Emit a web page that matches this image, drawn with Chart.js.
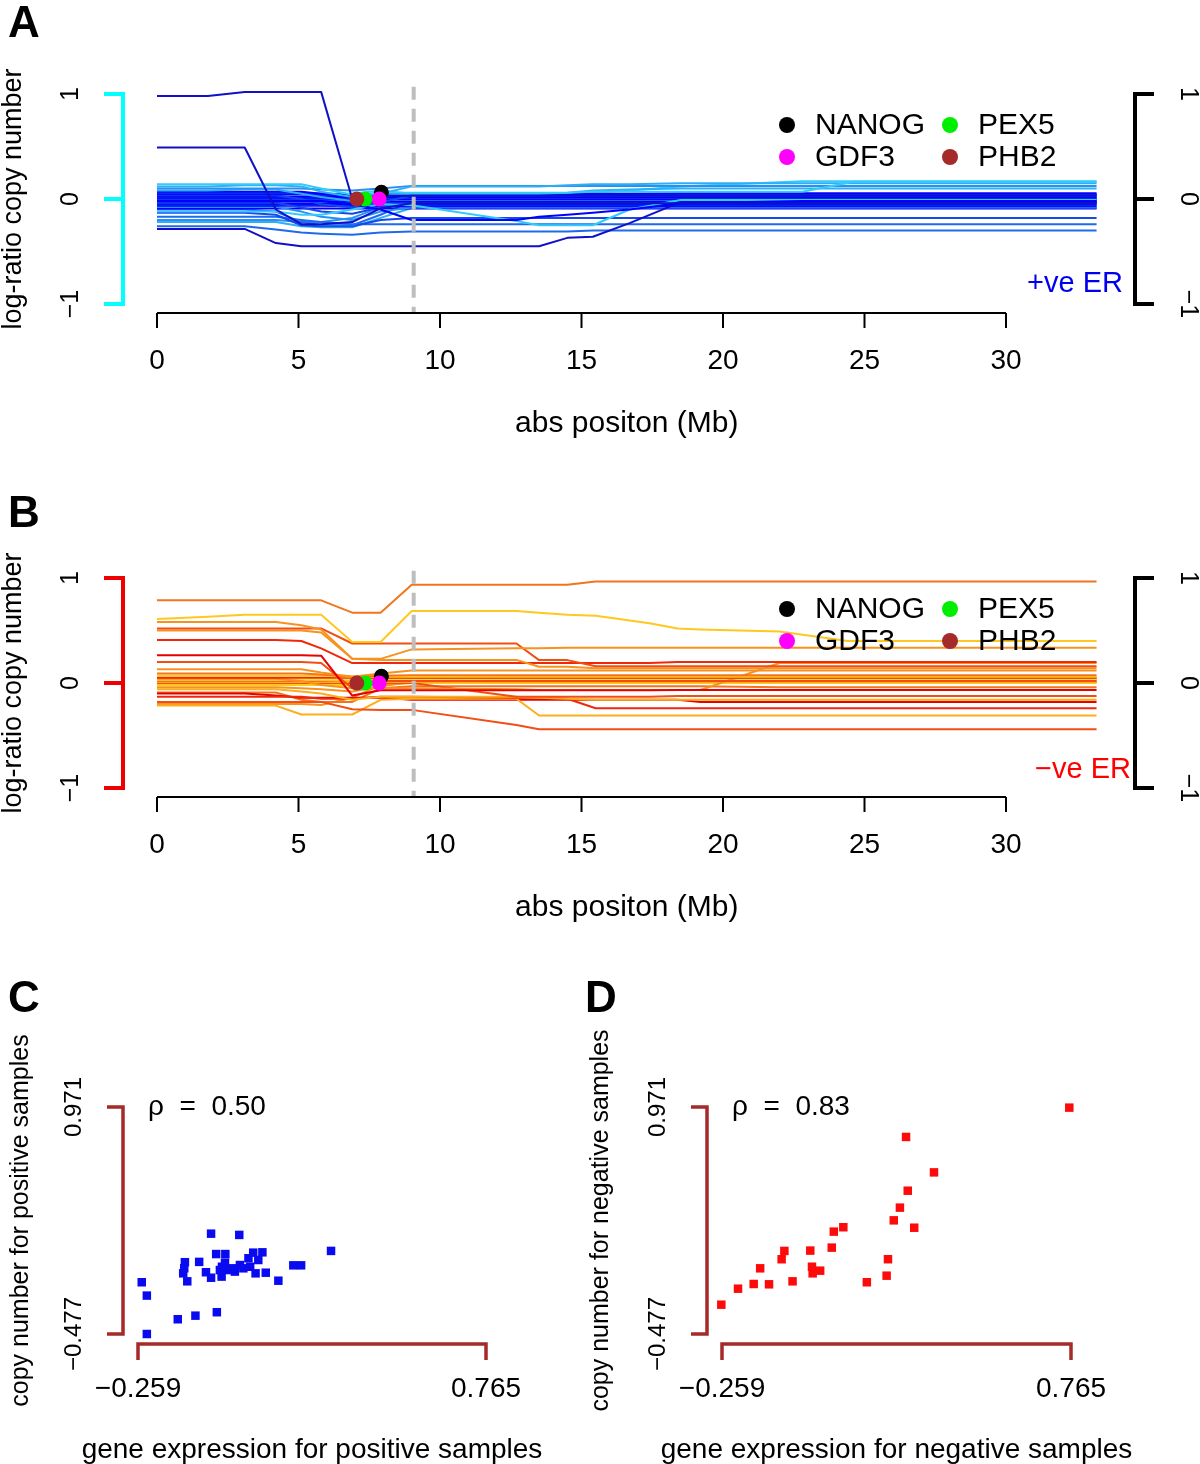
<!DOCTYPE html>
<html><head><meta charset="utf-8">
<script src="https://cdn.jsdelivr.net/npm/chart.js@4.4.1/dist/chart.umd.min.js"></script>
<style>
html,body{margin:0;padding:0;background:#fff;}
#wrap{position:relative;width:1200px;height:1464px;overflow:hidden;background:#fff;}
canvas{position:absolute;display:block;}
</style></head><body>
<div id="wrap">
<canvas id="cA" width="1200" height="484" style="left:0;top:0;width:1200px;height:484px"></canvas>
<canvas id="cB" width="1200" height="480" style="left:0;top:484px;width:1200px;height:480px"></canvas>
<canvas id="cC" width="580" height="500" style="left:0;top:964px;width:580px;height:500px"></canvas>
<canvas id="cD" width="620" height="500" style="left:580px;top:964px;width:620px;height:500px"></canvas>
</div>
<script>
// ---------------- DATA ----------------
const xTicksAB = [0, 5, 10, 15, 20, 25, 30];
const yTicksAB = [-1, 0, 1];
const xTitleAB = 'abs positon (Mb)';
const yTitleAB = 'log-ratio copy number';

const geneNames = ['NANOG', 'GDF3', 'PEX5', 'PHB2'];
const genePos = [7.93, 7.85, 7.35, 7.06];
const geneLogRatio = [0.064, 0.0, 0.0, 0.0];
const boundaryMb = 9.07;
const boundaryRange = [1.07, -1.086];

// Panel A: positions (Mb) and log-ratio values of each +ve ER sample
const posA = [0, 1.8, 3.1, 4.2, 5.1, 5.8, 6.9, 7.9, 9.0, 12.7, 13.5, 14.5, 15.4, 16.7, 18.5, 22.8, 24.6, 33.2];
const seriesA = [
 [0.98,0.98,1.02,1.02,1.02,1.02,0.00,0.03,0.03,0.03,0.03,0.03,0.03,0.03,0.03,0.03,0.03,0.03],
 [0.49,0.49,0.49,-0.10,-0.24,-0.24,-0.22,-0.09,-0.04,-0.04,-0.04,-0.04,-0.04,-0.04,-0.04,-0.04,-0.04,-0.04],
 [-0.02,-0.02,-0.02,-0.02,-0.02,-0.02,-0.05,-0.10,-0.20,-0.20,-0.17,-0.15,-0.13,-0.10,-0.04,-0.02,-0.02,-0.02],
 [-0.285,-0.285,-0.285,-0.42,-0.45,-0.45,-0.45,-0.45,-0.45,-0.45,-0.45,-0.37,-0.36,-0.23,-0.03,-0.03,-0.03,-0.03],
 [-0.12,-0.12,-0.12,-0.12,-0.15,-0.15,-0.10,-0.05,-0.06,-0.21,-0.25,-0.25,-0.25,-0.10,-0.01,-0.01,-0.01,-0.01],
 [0.14,0.14,0.14,0.14,0.14,0.10,0.04,0.06,0.06,0.06,0.06,0.06,0.07,0.07,0.07,0.07,0.165,0.165],
 [0.12,0.12,0.13,0.13,0.12,0.07,0.02,0.05,0.12,0.12,0.12,0.13,0.14,0.14,0.15,0.15,0.15,0.15],
 [0.10,0.10,0.10,0.10,0.10,0.09,0.08,0.10,0.125,0.125,0.125,0.125,0.125,0.125,0.125,0.125,0.125,0.125],
 [0.08,0.08,0.09,0.09,0.05,0.02,-0.02,0.03,0.05,0.05,0.05,0.06,0.08,0.09,0.10,0.10,0.10,0.10],
 [0.07,0.07,0.07,0.07,0.07,0.05,0.03,0.04,0.05,0.05,0.05,0.05,0.05,0.05,0.055,0.055,0.055,0.055],
 [0.055,0.055,0.055,0.055,0.055,0.05,0.04,0.045,0.045,0.045,0.045,0.045,0.045,0.045,0.045,0.045,0.045,0.045],
 [0.045,0.045,0.045,0.045,0.045,0.04,0.035,0.04,0.04,0.04,0.04,0.04,0.04,0.04,0.04,0.04,0.04,0.04],
 [0.035,0.035,0.035,0.035,0.00,-0.05,-0.08,-0.03,0.03,0.03,0.03,0.03,0.03,0.03,0.03,0.03,0.03,0.03],
 [0.025,0.025,0.025,0.025,0.025,0.025,0.02,0.02,0.02,0.02,0.02,0.02,0.02,0.02,0.02,0.02,0.02,0.02],
 [0.015,0.015,0.015,0.015,0.015,0.015,0.01,0.01,0.01,0.01,0.01,0.01,0.01,0.01,0.01,0.01,0.01,0.01],
 [0.005,0.005,0.005,0.005,0.005,0.005,0.0,0.0,0.0,0.0,0.0,0.0,0.0,0.0,0.0,0.0,0.0,0.0],
 [-0.005,-0.005,-0.005,-0.005,-0.005,-0.005,-0.01,-0.01,-0.01,-0.01,-0.01,-0.01,-0.01,-0.01,-0.01,-0.01,-0.01,-0.01],
 [-0.015,-0.015,-0.015,-0.015,-0.015,-0.015,-0.02,-0.02,-0.02,-0.02,-0.02,-0.02,-0.02,-0.02,-0.02,-0.02,-0.02,-0.02],
 [-0.025,-0.025,-0.025,-0.025,-0.025,-0.025,-0.03,-0.03,-0.03,-0.03,-0.03,-0.03,-0.03,-0.03,-0.03,-0.03,-0.03,-0.03],
 [-0.035,-0.035,-0.035,-0.035,-0.08,-0.12,-0.14,-0.08,-0.04,-0.04,-0.04,-0.04,-0.04,-0.04,-0.04,-0.04,-0.04,-0.04],
 [-0.045,-0.045,-0.045,-0.045,-0.045,-0.045,-0.05,-0.05,-0.05,-0.05,-0.05,-0.05,-0.05,-0.05,-0.05,-0.05,-0.05,-0.05],
 [-0.055,-0.055,-0.055,-0.055,-0.055,-0.055,-0.06,-0.06,-0.06,-0.06,-0.06,-0.06,-0.06,-0.06,-0.06,-0.06,-0.06,-0.06],
 [-0.065,-0.065,-0.065,-0.065,-0.065,-0.065,-0.07,-0.07,-0.07,-0.07,-0.07,-0.07,-0.07,-0.07,-0.07,-0.07,-0.07,-0.07],
 [-0.075,-0.075,-0.075,-0.075,-0.12,-0.17,-0.20,-0.12,-0.08,-0.08,-0.08,-0.08,-0.08,-0.08,-0.08,-0.08,-0.08,-0.08],
 [-0.09,-0.09,-0.09,-0.09,-0.09,-0.09,-0.09,-0.09,-0.09,-0.09,-0.09,-0.09,-0.09,-0.09,-0.09,-0.09,-0.09,-0.09],
 [-0.10,-0.10,-0.10,-0.12,-0.22,-0.25,-0.25,-0.15,-0.02,-0.02,-0.02,-0.02,-0.02,-0.02,-0.02,-0.02,-0.02,-0.02],
 [-0.13,-0.13,-0.13,-0.15,-0.25,-0.26,-0.26,-0.20,-0.18,-0.18,-0.18,-0.18,-0.18,-0.18,-0.18,-0.18,-0.18,-0.18],
 [-0.17,-0.17,-0.17,-0.17,-0.20,-0.22,-0.24,-0.24,-0.24,-0.24,-0.24,-0.24,-0.24,-0.24,-0.24,-0.24,-0.24,-0.24],
 [-0.20,-0.20,-0.20,-0.20,-0.22,-0.22,-0.18,-0.08,0.00,0.00,0.00,0.00,0.00,0.00,0.00,0.00,0.00,0.00],
 [-0.26,-0.26,-0.26,-0.29,-0.32,-0.33,-0.34,-0.32,-0.31,-0.31,-0.31,-0.31,-0.30,-0.30,-0.30,-0.30,-0.30,-0.30],
 [-0.22,-0.22,-0.22,-0.22,-0.26,-0.27,-0.27,-0.18,-0.085,-0.085,-0.085,-0.085,-0.085,-0.085,-0.085,-0.085,-0.085,-0.085],
 [0.05,0.05,0.05,0.05,0.05,0.05,0.05,0.08,0.05,0.05,0.05,0.05,0.06,0.08,0.12,0.17,0.17,0.17]
];

// Panel B: positions (Mb) and log-ratio values of each -ve ER sample
const posB = [0, 1.8, 3.1, 4.2, 5.1, 5.8, 6.9, 7.9, 9.0, 12.7, 13.5, 14.5, 15.5, 17.4, 18.4, 19.2, 22.0, 24.4, 33.2];
const seriesB = [
 [0.787,0.787,0.787,0.787,0.787,0.787,0.67,0.67,0.935,0.935,0.935,0.935,0.967,0.967,0.967,0.967,0.967,0.967,0.967],
 [0.61,0.63,0.65,0.65,0.65,0.65,0.39,0.39,0.685,0.685,0.67,0.65,0.64,0.57,0.52,0.51,0.49,0.40,0.40],
 [0.58,0.58,0.58,0.58,0.55,0.51,0.23,0.23,0.32,0.33,0.33,0.335,0.335,0.335,0.335,0.335,0.335,0.335,0.335],
 [0.52,0.52,0.52,0.52,0.52,0.52,0.376,0.376,0.376,0.376,0.218,0.218,0.16,0.16,0.16,0.16,0.16,0.16,0.16],
 [0.50,0.50,0.50,0.50,0.50,0.48,0.23,0.22,0.22,0.22,0.155,0.155,0.14,0.14,0.14,0.14,0.14,0.14,0.14],
 [0.41,0.41,0.41,0.41,0.40,0.33,0.19,0.19,0.19,0.19,0.19,0.19,0.19,0.19,0.20,0.20,0.20,0.20,0.20],
 [0.265,0.265,0.265,0.265,0.265,0.26,-0.12,-0.07,-0.07,-0.07,-0.07,-0.07,-0.07,-0.07,-0.066,-0.066,-0.066,-0.066,-0.066],
 [0.20,0.20,0.20,0.20,0.20,0.19,-0.05,0.02,0.02,0.02,0.02,0.02,0.02,0.02,0.02,0.02,0.02,0.02,0.02],
 [0.13,0.13,0.13,0.13,0.13,0.10,0.06,0.09,0.12,0.12,0.12,0.12,0.12,0.12,0.12,0.12,0.12,0.12,0.12],
 [0.09,0.09,0.09,0.09,0.09,0.08,0.06,0.07,0.075,0.075,0.075,0.075,0.075,0.075,0.075,0.075,0.075,0.075,0.075],
 [0.07,0.07,0.07,0.07,0.07,0.07,0.06,0.06,0.06,0.06,0.06,0.06,0.06,0.06,0.06,0.06,0.06,0.06,0.06],
 [0.05,0.05,0.05,0.05,0.05,0.05,0.05,0.05,0.05,0.05,0.05,0.05,0.05,0.05,0.05,0.05,0.05,0.05,0.05],
 [0.04,0.04,0.04,0.04,0.02,-0.02,-0.05,-0.05,-0.05,-0.06,-0.066,-0.066,-0.066,-0.066,-0.066,-0.066,0.19,0.19,0.19],
 [0.03,0.03,0.03,0.03,0.03,0.03,0.03,0.03,0.03,0.03,0.03,0.03,0.03,0.03,0.03,0.03,0.03,0.03,0.03],
 [0.02,0.02,0.02,0.02,0.02,0.02,0.03,0.035,0.035,0.035,0.035,0.035,0.035,0.035,0.035,0.035,0.035,0.035,0.035],
 [0.01,0.01,0.01,0.01,0.01,0.01,0.01,0.01,0.01,0.01,0.01,0.01,0.01,0.01,0.01,0.01,0.01,0.01,0.01],
 [0.0,0.0,0.0,0.0,0.0,0.0,0.0,0.0,0.0,-0.13,-0.13,-0.13,-0.13,-0.13,-0.123,-0.123,-0.123,-0.123,-0.123],
 [-0.02,-0.02,-0.02,-0.02,-0.02,-0.02,-0.02,0.0,0.0,0.0,0.0,0.0,0.0,0.0,0.0,0.0,0.0,0.0,0.0],
 [-0.04,-0.04,-0.04,-0.04,-0.05,-0.06,-0.08,-0.03,0.01,0.01,0.01,0.01,0.01,0.01,0.01,0.01,0.01,0.01,0.01],
 [-0.06,-0.06,-0.06,-0.06,-0.08,-0.10,-0.16,-0.13,-0.13,-0.13,-0.14,-0.15,-0.16,-0.16,-0.16,-0.16,-0.16,-0.16,-0.16],
 [-0.13,-0.13,-0.13,-0.13,-0.13,-0.15,-0.15,-0.13,-0.13,-0.14,-0.14,-0.15,-0.24,-0.24,-0.24,-0.24,-0.24,-0.24,-0.24],
 [-0.18,-0.18,-0.18,-0.18,-0.18,-0.18,-0.25,-0.256,-0.256,-0.40,-0.44,-0.44,-0.44,-0.44,-0.44,-0.44,-0.44,-0.44,-0.44],
 [-0.215,-0.215,-0.215,-0.215,-0.30,-0.30,-0.30,-0.16,-0.15,-0.15,-0.31,-0.31,-0.31,-0.31,-0.31,-0.31,-0.31,-0.31,-0.31],
 [-0.10,-0.10,-0.10,-0.12,-0.14,-0.14,-0.14,-0.14,-0.16,-0.16,-0.16,-0.16,-0.16,-0.16,-0.16,-0.18,-0.18,-0.18,-0.18],
 [-0.09,-0.09,-0.09,-0.09,-0.16,-0.18,-0.18,-0.05,-0.03,-0.03,-0.03,-0.03,-0.03,-0.03,-0.03,-0.03,-0.04,-0.04,-0.04],
 [-0.20,-0.20,-0.20,-0.20,-0.20,-0.21,-0.14,-0.02,0.00,0.00,0.00,0.00,0.00,0.00,0.00,0.00,0.01,0.01,0.01]
];

// Panels C and D: gene expression vs copy number
const xTicksCD = [-0.259, 0.765];
const yTicksCD = [-0.477, 0.971];
const exprPos = [-0.248,-0.233,-0.233,-0.142,-0.090,-0.027,-0.121,-0.123,-0.126,-0.114,-0.079,-0.044,0.039,-0.059,-0.044,-0.029,-0.002,-0.013,-0.012,-0.003,0.002,0.026,0.041,0.051,0.066,0.080,0.107,0.095,0.071,0.087,0.117,0.154,0.198,0.221,0.309,-0.018,0.017];
const cnPos   = [-0.147,-0.232,-0.477,-0.383,-0.360,-0.338,-0.019,-0.058,-0.090,-0.141,-0.017,0.163,0.155,-0.083,-0.118,0.033,0.033,-0.111,-0.048,-0.022,-0.069,-0.079,-0.037,-0.058,0.006,0.042,0.044,-0.005,-0.048,-0.090,-0.086,-0.137,-0.039,-0.039,0.053,-0.069,-0.058];
const exprNeg = [0.760,0.281,0.363,0.286,0.263,0.245,0.305,0.097,0.069,0.063,0.000,-0.076,-0.084,-0.147,0.005,0.007,0.029,-0.052,-0.121,-0.166,-0.212,-0.261,0.166,0.224,0.228];
const cnNeg   = [0.967,0.780,0.554,0.437,0.329,0.248,0.201,0.204,0.176,0.074,0.055,0.053,0.000,-0.058,-0.048,-0.090,-0.073,-0.141,-0.160,-0.158,-0.188,-0.290,-0.147,-0.105,0.000];
const rhoPos = '0.50';
const rhoNeg = '0.83';

// ---------------- STYLE ----------------
const FF = '"Liberation Sans", Arial, Helvetica, sans-serif';
const palA = ['#1010C8','#0000FF','#0A28F2','#1448EA','#1E6AEE','#2890F2','#2EAEF5','#33CCFA'];
const colIdxA = [0,0,1,0,7,7,6,5,6,1,2,1,3,1,2,1,4,1,2,3,1,2,1,5,1,4,3,4,5,4,6,7];
const palB = ['#E60000','#F0280A','#F24E14','#F2741C','#F7921E','#FBAF1C','#FFC81E','#FFDD33'];
const colIdxB = [3,6,4,2,4,1,0,2,4,3,6,1,4,7,3,5,2,6,4,5,1,2,5,0,3,4];
const geneColors = ['#000000','#FF00FF','#00EE00','#A52A2A'];

function minus(v){ return String(v).replace('-', '\u2212'); }
function txt(ctx, s, x, y, rot, font, color, align, base){
  ctx.save(); ctx.translate(x, y); ctx.rotate(rot || 0);
  ctx.font = font; ctx.fillStyle = color; ctx.textAlign = align || 'center'; ctx.textBaseline = base || 'middle';
  ctx.fillText(s, 0, 0); ctx.restore();
}

function abPlugin(p){
  return {
    id: 'rAxesAB',
    afterDraw(chart){
      const ctx = chart.ctx, xs = chart.scales.x, ys = chart.scales.y;
      ctx.save();
      ctx.lineCap = 'butt'; ctx.lineJoin = 'miter';
      // bottom axis
      const ay = ys.getPixelForValue(yTicksAB[0]) + 9;
      ctx.strokeStyle = '#000'; ctx.lineWidth = 2;
      ctx.beginPath();
      ctx.moveTo(xs.getPixelForValue(xTicksAB[0]), ay);
      ctx.lineTo(xs.getPixelForValue(xTicksAB[xTicksAB.length-1]), ay);
      xTicksAB.forEach(t => { const px = xs.getPixelForValue(t); ctx.moveTo(px, ay); ctx.lineTo(px, ay + 15); });
      ctx.stroke();
      xTicksAB.forEach(t => txt(ctx, minus(t), xs.getPixelForValue(t), ay + 48, 0, '28px ' + FF, '#000'));
      txt(ctx, xTitleAB, xs.getPixelForValue(p.pos[p.pos.length-1] / 2), ay + 111, 0, '30px ' + FF, '#000');
      // left bracket
      const yT = ys.getPixelForValue(yTicksAB[yTicksAB.length-1]), yB = ys.getPixelForValue(yTicksAB[0]);
      const lx = xs.left - 34;
      ctx.strokeStyle = p.bracket; ctx.lineWidth = 4;
      ctx.beginPath();
      ctx.moveTo(lx - 19, yT); ctx.lineTo(lx, yT); ctx.lineTo(lx, yB); ctx.lineTo(lx - 19, yB);
      yTicksAB.forEach(t => { const py = ys.getPixelForValue(t); ctx.moveTo(lx - 19, py); ctx.lineTo(lx, py); });
      ctx.stroke();
      yTicksAB.forEach(t => txt(ctx, minus(t), lx - 52, ys.getPixelForValue(t), -Math.PI/2, '25px ' + FF, '#000'));
      txt(ctx, yTitleAB, 14, ys.getPixelForValue(0), -Math.PI/2, '27px ' + FF, '#000');
      // right bracket
      const rx = 1135;
      ctx.strokeStyle = '#000'; ctx.lineWidth = 4;
      ctx.beginPath();
      ctx.moveTo(rx + 19, yT); ctx.lineTo(rx, yT); ctx.lineTo(rx, yB); ctx.lineTo(rx + 19, yB);
      yTicksAB.forEach(t => { const py = ys.getPixelForValue(t); ctx.moveTo(rx + 19, py); ctx.lineTo(rx, py); });
      ctx.stroke();
      yTicksAB.forEach(t => txt(ctx, minus(t), rx + 53, ys.getPixelForValue(t), Math.PI/2, '25px ' + FF, '#000'));
      // ER label
      txt(ctx, p.er, p.erX, p.erY, 0, '29px ' + FF, p.erColor, 'right', 'alphabetic');
      // legend (R fills by column)
      geneNames.forEach((g, i) => {
        const cx = 787 + Math.floor(i / 2) * 163, cy = 125 + (i % 2) * 32;
        ctx.fillStyle = geneColors[i];
        ctx.beginPath(); ctx.arc(cx, cy, 8, 0, Math.PI * 2); ctx.fill();
        txt(ctx, g, cx + 28, cy + 1, 0, '30px ' + FF, '#000', 'left', 'middle');
      });
      // panel letter
      txt(ctx, p.letter, 8, p.letterY, 0, 'bold 44px ' + FF, '#000', 'left', 'alphabetic');
      ctx.restore();
    }
  };
}

function makeAB(id, pos, series, pal, idx, p){
  const datasets = [];
  datasets.push({
    data: geneNames.map((g, i) => ({x: genePos[i], y: geneLogRatio[i]})),
    showLine: false, pointRadius: 7.5, pointBorderWidth: 0,
    pointBackgroundColor: geneColors, pointStyle: 'circle', order: 0, clip: false
  });
  datasets.push({
    data: [{x: boundaryMb, y: boundaryRange[0]}, {x: boundaryMb, y: boundaryRange[1]}],
    showLine: true, borderColor: '#BEBEBE', borderWidth: 4, borderDash: [13, 9], borderCapStyle: 'butt',
    pointRadius: 0, order: 1, clip: false
  });
  series.forEach((vals, i) => datasets.push({
    data: pos.map((x, j) => ({x: x, y: vals[j]})),
    showLine: true, borderColor: pal[idx[i]], borderWidth: 2, pointRadius: 0,
    tension: 0, order: 2, clip: false, borderJoinStyle: 'round'
  }));
  const cv = document.getElementById(id);
  new Chart(cv, {
    type: 'scatter',
    data: {datasets},
    options: {
      responsive: false, animation: false, devicePixelRatio: 1, events: [],
      layout: {padding: {left: 157, right: 1200 - 1006, top: 94, bottom: cv.height - 304}},
      plugins: {legend: {display: false}, tooltip: {enabled: false}, title: {display: false}},
      scales: {
        x: {type: 'linear', min: xTicksAB[0], max: xTicksAB[xTicksAB.length-1], display: false},
        y: {type: 'linear', min: yTicksAB[0], max: yTicksAB[yTicksAB.length-1], display: false}
      }
    },
    plugins: [abPlugin(Object.assign({pos}, p))]
  });
}

function cdPlugin(p){
  return {
    id: 'rAxesCD',
    afterDraw(chart){
      const ctx = chart.ctx, xs = chart.scales.x, ys = chart.scales.y;
      const br = '#A52A2A';
      ctx.save(); ctx.lineCap = 'butt'; ctx.lineJoin = 'miter';
      const yT = ys.getPixelForValue(yTicksCD[1]), yB = ys.getPixelForValue(yTicksCD[0]);
      const xL = xs.getPixelForValue(xTicksCD[0]), xR = xs.getPixelForValue(xTicksCD[1]);
      const bx = xs.left - 15, by = ys.bottom + 10;
      ctx.strokeStyle = br; ctx.lineWidth = 3.5;
      ctx.beginPath();
      ctx.moveTo(bx - 16, yT); ctx.lineTo(bx, yT); ctx.lineTo(bx, yB); ctx.lineTo(bx - 16, yB);
      ctx.stroke();
      ctx.beginPath();
      ctx.moveTo(xL, by + 16); ctx.lineTo(xL, by); ctx.lineTo(xR, by); ctx.lineTo(xR, by + 16);
      ctx.stroke();
      yTicksCD.forEach(t => txt(ctx, minus(t.toFixed(3)), bx - 49, ys.getPixelForValue(t), -Math.PI/2, '24px ' + FF, '#000'));
      xTicksCD.forEach(t => txt(ctx, minus(t.toFixed(3)), xs.getPixelForValue(t), by + 45, 0, '28px ' + FF, '#000'));
      txt(ctx, p.yTitle, 21, (yT + yB) / 2, -Math.PI/2, '25px ' + FF, '#000');
      txt(ctx, p.xTitle, (xL + xR) / 2, by + 106, 0, '28px ' + FF, '#000');
      txt(ctx, '\u03C1  =  ' + p.rho, xs.left + 10, yT, 0, '28px ' + FF, '#000', 'left', 'middle');
      txt(ctx, p.letter, p.letterX, 48, 0, 'bold 44px ' + FF, '#000', 'left', 'alphabetic');
      ctx.restore();
    }
  };
}

function makeCD(id, xv, yv, color, padL, padR, p){
  const cv = document.getElementById(id);
  new Chart(cv, {
    type: 'scatter',
    data: {datasets: [{
      data: xv.map((x, i) => ({x: x, y: yv[i]})),
      pointStyle: 'rect', pointRadius: 6, pointBorderWidth: 0,
      pointBackgroundColor: color, showLine: false, clip: false
    }]},
    options: {
      responsive: false, animation: false, devicePixelRatio: 1, events: [],
      layout: {padding: {left: padL, right: padR, top: 143, bottom: 130}},
      plugins: {legend: {display: false}, tooltip: {enabled: false}},
      scales: {
        x: {type: 'linear', min: xTicksCD[0], max: xTicksCD[1], display: false},
        y: {type: 'linear', min: yTicksCD[0], max: yTicksCD[1], display: false}
      }
    },
    plugins: [cdPlugin(p)]
  });
}

makeAB('cA', posA, seriesA, palA, colIdxA, {letter: 'A', letterY: 37, bracket: '#00FFFF', er: '+ve ER', erColor: '#0000EE', erX: 1123, erY: 292});
makeAB('cB', posB, seriesB, palB, colIdxB, {letter: 'B', letterY: 43, bracket: '#EE0000', er: '\u2212ve ER', erColor: '#FF0000', erX: 1131, erY: 294});
makeCD('cC', exprPos, cnPos, '#0A0AF0', 138, 580 - 486, {letter: 'C', letterX: 8, rho: rhoPos,
  xTitle: 'gene expression for positive samples', yTitle: 'copy number for positive samples'});
makeCD('cD', exprNeg, cnNeg, '#FF0A0A', 142, 620 - 491, {letter: 'D', letterX: 5, rho: rhoNeg,
  xTitle: 'gene expression for negative samples', yTitle: 'copy number for negative samples'});
</script>
</body></html>
